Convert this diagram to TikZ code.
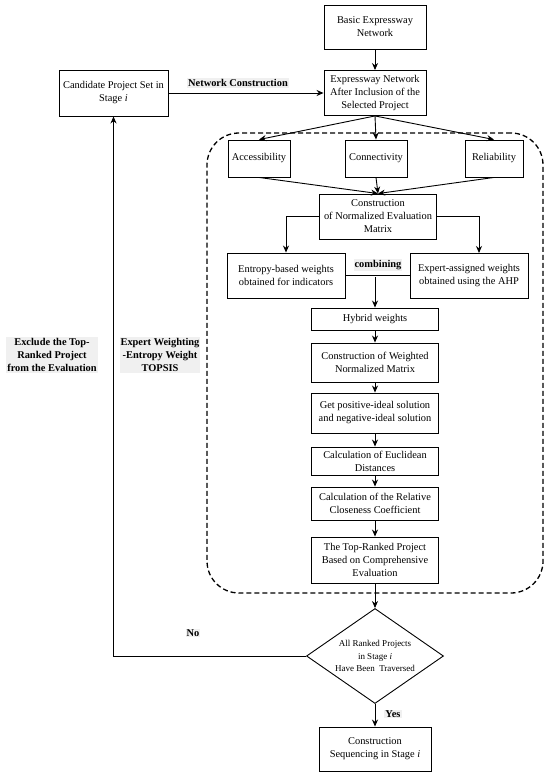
\documentclass[tikz,border=0pt]{standalone}
\usepackage{fontspec}
\setmainfont{Liberation Serif}
\usetikzlibrary{arrows.meta,shapes.geometric}
\begin{document}
\begin{tikzpicture}[x=1pt,y=-1pt,
  box/.style={draw,line width=0.9pt,align=center,inner sep=0pt,font=\fontsize{10.4}{13}\selectfont},
  arr/.style={draw,line width=0.9pt,-{Stealth[length=7pt,width=6pt]}},
  ln/.style={draw,line width=0.9pt},
  lbl/.style={fill=black!6,inner sep=1pt,font=\bfseries\fontsize{10.4}{13}\selectfont,align=center},
  dbox/.style={draw,line width=1.3pt,dash pattern=on 5pt off 3pt,rounded corners=32pt,inner sep=0pt},
  dia/.style={draw,line width=0.9pt,diamond,aspect=1.44,inner sep=0pt,align=center,font=\fontsize{9}{12.5}\selectfont}]
\useasboundingbox (0,0) rectangle (550,776);
% dashed frame
\node[dbox,minimum width=336pt,minimum height=460pt] (frame) at (375,363) {};
% nodes
\node[box,minimum width=102pt,minimum height=44pt] (basic) at (375,27) {Basic Expressway\\Network};
\node[box,minimum width=102pt,minimum height=45pt] (exp) at (375,93) {Expressway Network\\After Inclusion of the\\Selected Project};
\node[box,minimum width=109pt,minimum height=46pt] (cand) at (113.5,93) {Candidate Project Set in\\Stage \textit{i}};
\node[box,minimum width=62pt,minimum height=37pt] (acc) at (259,158.5) {Accessibility};
\node[box,minimum width=62pt,minimum height=37pt] (conn) at (376,158.5) {Connectivity};
\node[box,minimum width=58pt,minimum height=37pt] (rel) at (494,158.5) {Reliability};
\node[box,minimum width=117pt,minimum height=45pt] (constr) at (378,216.5) {Construction\\of Normalized Evaluation\\Matrix};
\node[box,minimum width=118pt,minimum height=45pt] (entropy) at (286,275.5) {Entropy-based weights\\obtained for indicators};
\node[box,minimum width=118pt,minimum height=45pt] (expert) at (469,275.5) {Expert-assigned weights\\obtained using the AHP};
\node[box,minimum width=127pt,minimum height=22pt] (hybrid) at (375,319) {Hybrid weights};
\node[box,minimum width=127pt,minimum height=39pt] (weighted) at (375,362.5) {Construction of Weighted\\Normalized Matrix};
\node[box,minimum width=127pt,minimum height=40pt] (ideal) at (375,413) {Get positive-ideal solution\\and negative-ideal solution};
\node[box,minimum width=127pt,minimum height=28pt] (eucl) at (375,461) {Calculation of Euclidean\\Distances};
\node[box,minimum width=127pt,minimum height=33pt] (close) at (375,503.5) {Calculation of the Relative\\Closeness Coefficient};
\node[box,minimum width=127pt,minimum height=46pt] (top) at (375,560) {The Top-Ranked Project\\Based on Comprehensive\\Evaluation};
\node[dia,minimum width=137pt,minimum height=95pt] (dec) at (375,656) {All Ranked Projects\\in Stage \textit{i}\\Have Been~~Traversed};
\node[box,minimum width=112pt,minimum height=44pt] (final) at (375,749) {Construction\\Sequencing in Stage \textit{i}};
% labels
\node[lbl] (nclab) at (238,83) {Network Construction};
\node[lbl] (cmblab) at (378,265) {combining};
\node[lbl] (exlab) at (52,355) {Exclude the Top-\\Ranked Project\\from the Evaluation};
\node[lbl] (toplab) at (160,355) {Expert Weighting\\-Entropy Weight\\TOPSIS};
\node[lbl] (nolab) at (193,633) {No};
\node[lbl] (yeslab) at (393,714) {Yes};
% coordinates
\coordinate (expin) at (479,253);
\coordinate (cmb) at (375,277);
% connectors
\draw[arr] (basic) -- (exp);
\draw[arr] (cand.east) -- (exp.west);
\draw[arr] (exp.south) -- (acc.north);
\draw[arr] (exp.south) -- (conn.north);
\draw[arr] (exp.south) -- (rel.north);
\draw[arr] (acc.south) -- (constr.north);
\draw[arr] (conn.south) -- (constr.north);
\draw[arr] (rel.south) -- (constr.north);
\draw[arr] (constr.west) -| (entropy.north);
\draw[arr] (constr.east) -| (expin);
\draw[ln] (entropy.east) -- (expert.west);
\draw[arr] (cmb) -- (hybrid.north);
\draw[arr] (hybrid) -- (weighted);
\draw[arr] (weighted) -- (ideal);
\draw[arr] (ideal) -- (eucl);
\draw[arr] (eucl) -- (close);
\draw[arr] (close) -- (top);
\draw[arr] (top.south) -- (dec.north);
\draw[arr] (dec.west) -| (cand.south);
\draw[arr] (dec.south) -- (final.north);
\end{tikzpicture}
\end{document}
